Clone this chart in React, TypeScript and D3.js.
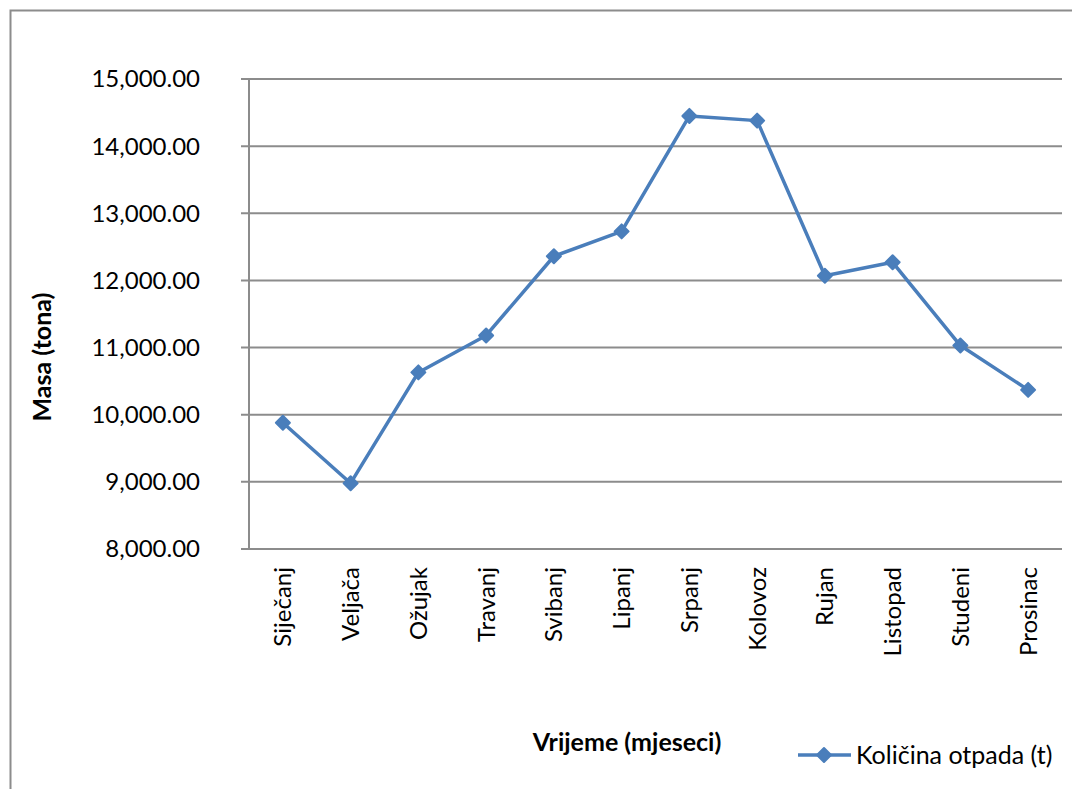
import React from "react";
import * as d3 from "d3";

const months = ["Siječanj","Veljača","Ožujak","Travanj","Svibanj","Lipanj","Srpanj","Kolovoz","Rujan","Listopad","Studeni","Prosinac"];
const values = [9880, 8980, 10630, 11180, 12360, 12730, 14450, 14380, 12070, 12270, 11030, 10370];
const yTicks = [8000, 9000, 10000, 11000, 12000, 13000, 14000, 15000];
const seriesName = "Količina otpada (t)";
const xTitle = "Vrijeme (mjeseci)";
const yTitle = "Masa (tona)";

const W = 1072, H = 789;
const left = 249, right = 1062, top = 79, bottom = 549;
const color = "#4A7EBB";
const font = "Lato, 'Open Sans', sans-serif";

export default function App() {
  const x = d3.scaleBand<string>().domain(months).range([left, right]);
  const y = d3.scaleLinear().domain([8000, 15000]).range([bottom, top]);
  const cx = (m: string) => (x(m) as number) + x.bandwidth() / 2;
  const line = d3.line<number>().x((_, i) => cx(months[i])).y(v => y(v));
  const fmt = d3.format(",.2f");
  const diamond = (px: number, py: number, r: number) =>
    `M${px},${py - r}L${px + r},${py}L${px},${py + r}L${px - r},${py}Z`;
  return (
    <svg width={W} height={H} style={{ position: "absolute", left: 0, top: 0, fontFamily: font }}>
      <rect x={0} y={0} width={W} height={H} fill="#fff" />
      <path d={`M10.5,${H}V10.5H${W}`} fill="none" stroke="#8c8c8c" strokeWidth={2} />
      {yTicks.map(t => (
        <g key={t}>
          <line x1={241} x2={right} y1={y(t)} y2={y(t)} stroke="#8c8c8c" strokeWidth={2} />
          <text x={200} y={y(t)} dy="0.35em" textAnchor="end" fontSize={24} fill="#000">{fmt(t)}</text>
        </g>
      ))}
      <line x1={left} x2={left} y1={top} y2={bottom} stroke="#8c8c8c" strokeWidth={2} />
      {months.map(m => (
        <text key={m} transform={`translate(${cx(m)},567) rotate(-90)`} dy="0.35em" textAnchor="end" fontSize={24} fill="#000">{m}</text>
      ))}
      <path d={line(values) || ""} fill="none" stroke={color} strokeWidth={3.5} strokeLinejoin="round" />
      {values.map((v, i) => (
        <path key={i} d={diamond(cx(months[i]), y(v), 7)} fill={color} stroke={color} strokeWidth={2} strokeLinejoin="round" />
      ))}
      <text x={627} y={742} dy="0.35em" textAnchor="middle" fontSize={25} fontWeight="bold">{xTitle}</text>
      <text transform="translate(42,357) rotate(-90)" dy="0.35em" textAnchor="middle" fontSize={25} fontWeight="bold">{yTitle}</text>
      <line x1={798} x2={851} y1={755} y2={755} stroke={color} strokeWidth={3.5} />
      <path d={diamond(824, 755, 7)} fill={color} stroke={color} strokeWidth={2} strokeLinejoin="round" />
      <text x={856} y={755} dy="0.35em" fontSize={25}>{seriesName}</text>
    </svg>
  );
}
